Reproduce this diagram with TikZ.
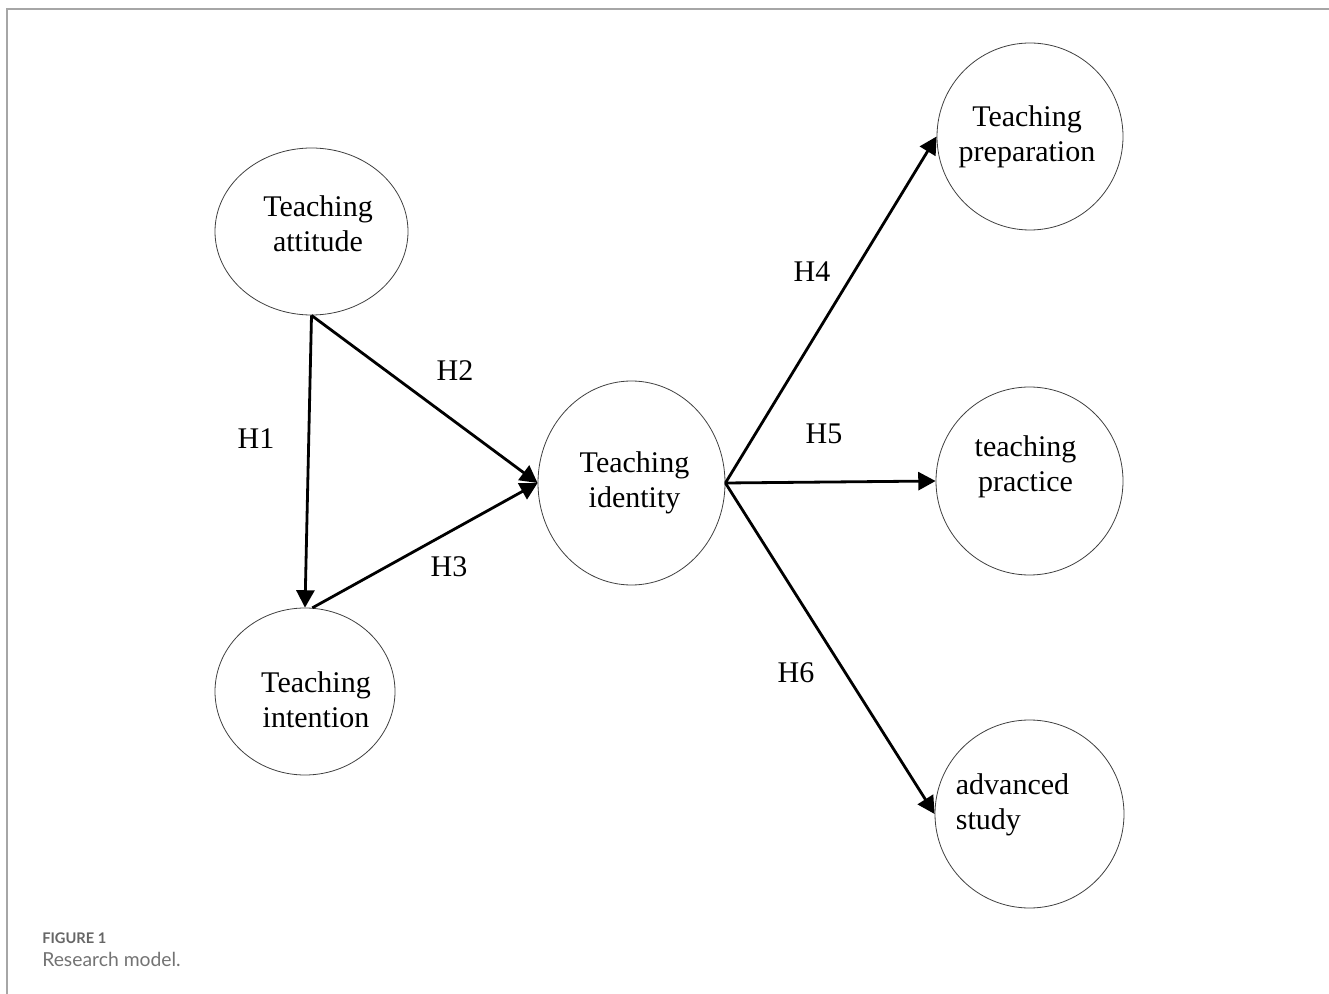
\documentclass[tikz,border=0pt]{standalone}
\usepackage{fontspec}
\setmainfont{Liberation Serif}
\newfontfamily\capfont{Lato}
\usetikzlibrary{shapes.geometric,arrows.meta}

\begin{document}
\begin{tikzpicture}[x=0.75pt,y=-0.75pt]
\tikzstyle{every node}+=[inner sep=0pt]
\tikzstyle{construct}=[draw=black!75, line width=0.6pt, ellipse]
\tikzstyle{txt}=[font=\fontsize{22.5}{26.25}\selectfont, align=center]
\tikzstyle{hyp}=[black, line width=2.1pt, -{Triangle[length=13pt,width=13.5pt]}]
\useasboundingbox (0,0) rectangle (1329,994);
\draw [black!35, line width=1.2pt] (7,994) -- (7,9) -- (1329,9);
% constructs
\node [construct, minimum width=144.75pt, minimum height=125.25pt,
  label={[txt,xshift=4.9pt,yshift=6pt]center:Teaching\\attitude}] (att) at (311.5,231.5) {};
\node [construct, minimum width=135pt, minimum height=125.25pt,
  label={[txt,xshift=8.25pt,yshift=-6pt]center:Teaching\\intention}] (int) at (305,691.5) {};
\node [construct, minimum width=140.25pt, minimum height=153pt,
  label={[txt,xshift=2.25pt]center:Teaching\\identity}] (iden) at (631.5,483) {};
\node [construct, minimum width=139.5pt, minimum height=140.25pt,
  label={[txt,xshift=-2.25pt]center:Teaching\\preparation}] (prep) at (1030,136.5) {};
\node [construct, minimum width=140.25pt, minimum height=141pt,
  label={[txt,xshift=-3pt,yshift=10.5pt]center:teaching\\practice}] (prac) at (1029.5,481) {};
\node [construct, minimum width=141.75pt, minimum height=141pt,
  label={[txt,align=left,xshift=-12.75pt,yshift=6.75pt]center:advanced\\study}] (adv) at (1029.5,814) {};
% hypotheses
\draw [hyp] (att.south) -- (int.north);
\draw [hyp] (att.south) -- (iden.west);
\draw [hyp] (int.85) -- (iden.west);
\draw [hyp] (iden.east) -- (prep.west);
\draw [hyp] (iden.east) -- (prac.west);
\draw [hyp] (iden.east) -- (adv.west);
\node [txt] (h1) at (256,439) {H1};
\node [txt] (h2) at (455,371) {H2};
\node [txt] (h3) at (449,567) {H3};
\node [txt] (h4) at (812,272) {H4};
\node [txt] (h5) at (824,434) {H5};
\node [txt] (h6) at (796,673) {H6};
% caption
\node [anchor=base west, text=black!60, font=\capfont\bfseries\fontsize{11}{13}\selectfont] (fig) at (42,943) {FIGURE 1};
\node [anchor=base west, text=black!55, font=\capfont\fontsize{14.5}{17}\selectfont] (cap) at (42,966) {Research model.};
\end{tikzpicture}
\end{document}
